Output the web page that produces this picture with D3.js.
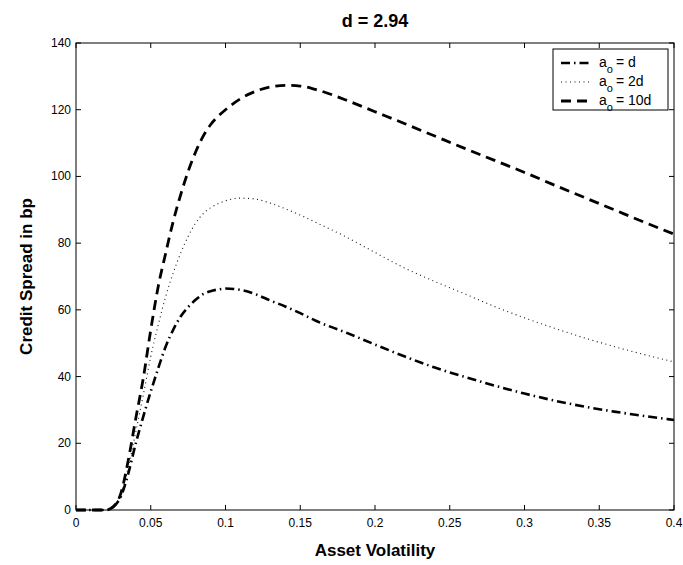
<!DOCTYPE html>
<html><head><meta charset="utf-8">
<script src="https://cdn.jsdelivr.net/npm/d3@7"></script>
<style>body{margin:0;background:#fff;} text{font-family:"Liberation Sans",Arial,Helvetica,sans-serif;}</style>
</head><body>
<svg id="c" width="683" height="565"></svg>
<script>
const xs = [0,0.005,0.01,0.015,0.02,0.025,0.03,0.035,0.04,0.045,0.05,0.055,0.06,0.065,0.07,0.075,0.08,0.085,0.09,0.095,0.1,0.11,0.12,0.13,0.14,0.15,0.16,0.18,0.2,0.22,0.24,0.26,0.28,0.3,0.32,0.34,0.36,0.38,0.4];
const seriesD   = [0,0,0,0,0,1,4,11,20,28,35.5,42.5,49,54,58,60.8,63,64.7,65.6,66.1,66.4,66,64.7,62.8,61,59,56.8,53.3,49.6,46,42.7,39.9,37.3,34.9,32.8,31,29.5,28.2,27];
const series2D  = [0,0,0,0,0,1,5,13,23.5,34.5,46,55.5,64,71,77,82,86,88.8,90.6,91.8,92.7,93.5,93.2,92,90.3,88.4,86.3,82,77.2,72.5,68.5,64.8,61,57.6,54.5,51.6,49,46.6,44.4];
const series10D = [0,0,0,0,0,1,5,15,27.5,39.5,54,67,77,86.5,94.5,101.5,107.3,112,115.5,118,120,123.3,125.5,126.8,127.3,127.1,126.1,123,119.4,115.8,112.1,108.4,104.8,101.2,97.4,93.7,90,86.3,82.7];
const xTicks = [0,0.05,0.1,0.15,0.2,0.25,0.3,0.35,0.4];
const yTicks = [0,20,40,60,80,100,120,140];
const legendLabels = ["= d","= 2d","= 10d"];
const titleText = "d = 2.94";

const svg = d3.select("#c");
const L=76,R=674,T=43,B=510;
const x = d3.scaleLinear().domain([0,0.4]).range([L,R]);
const y = d3.scaleLinear().domain([0,140]).range([B,T]);

const styles = [
  {w:2.6, dash:"9,4,1.5,4", color:"#000"},
  {w:1.1, dash:"1,3.5", color:"#111"},
  {w:2.8, dash:"10,6", color:"#000"}
];
const allSeries=[seriesD,series2D,series10D];

svg.append("rect").attr("x",L).attr("y",T).attr("width",R-L).attr("height",B-T)
  .attr("fill","none").attr("stroke","#000").attr("stroke-width",1);

const tk=5;
const g=svg.append("g");
xTicks.forEach(v=>{
  g.append("line").attr("x1",x(v)).attr("x2",x(v)).attr("y1",B).attr("y2",B-tk).attr("stroke","#000");
  g.append("line").attr("x1",x(v)).attr("x2",x(v)).attr("y1",T).attr("y2",T+tk).attr("stroke","#000");
  g.append("text").attr("x",x(v)).attr("y",B+17).attr("text-anchor","middle").attr("font-size",12).text(String(v));
});
yTicks.forEach(v=>{
  g.append("line").attr("x1",L).attr("x2",L+tk).attr("y1",y(v)).attr("y2",y(v)).attr("stroke","#000");
  g.append("line").attr("x1",R).attr("x2",R-tk).attr("y1",y(v)).attr("y2",y(v)).attr("stroke","#000");
  g.append("text").attr("x",L-5).attr("y",y(v)+4).attr("text-anchor","end").attr("font-size",12).text(String(v));
});

const line=d3.line().x((d,i)=>x(xs[i])).y(d=>y(d)).curve(d3.curveMonotoneX);
allSeries.forEach((s,i)=>{
  svg.append("path").datum(s).attr("d",line).attr("fill","none")
    .attr("stroke",styles[i].color).attr("stroke-width",styles[i].w)
    .attr("stroke-dasharray",styles[i].dash);
});

svg.append("text").attr("x",(L+R)/2).attr("y",27).attr("text-anchor","middle")
  .attr("font-size",18).attr("font-weight","bold").text(titleText);
svg.append("text").attr("x",(L+R)/2).attr("y",556).attr("text-anchor","middle")
  .attr("font-size",17).attr("font-weight","bold").text("Asset Volatility");
svg.append("text").attr("transform",`translate(32,${(T+B)/2}) rotate(-90)`).attr("text-anchor","middle")
  .attr("font-size",17).attr("font-weight","bold").text("Credit Spread in bp");

const lg=svg.append("g");
lg.append("rect").attr("x",553).attr("y",49).attr("width",115).attr("height",61)
  .attr("fill","#fff").attr("stroke","#000").attr("stroke-width",1);
legendLabels.forEach((lab,i)=>{
  const yy=63+i*19;
  lg.append("line").attr("x1",561).attr("x2",592).attr("y1",yy).attr("y2",yy)
    .attr("stroke",styles[i].color).attr("stroke-width",styles[i].w).attr("stroke-dasharray",styles[i].dash);
  const t=lg.append("text").attr("x",599).attr("y",yy+4).attr("font-size",14);
  t.append("tspan").text("a");
  t.append("tspan").attr("dy",6).attr("font-size",11).text("o");
  t.append("tspan").attr("dy",-6).attr("dx",3).text(lab);
});
</script>
</body></html>
